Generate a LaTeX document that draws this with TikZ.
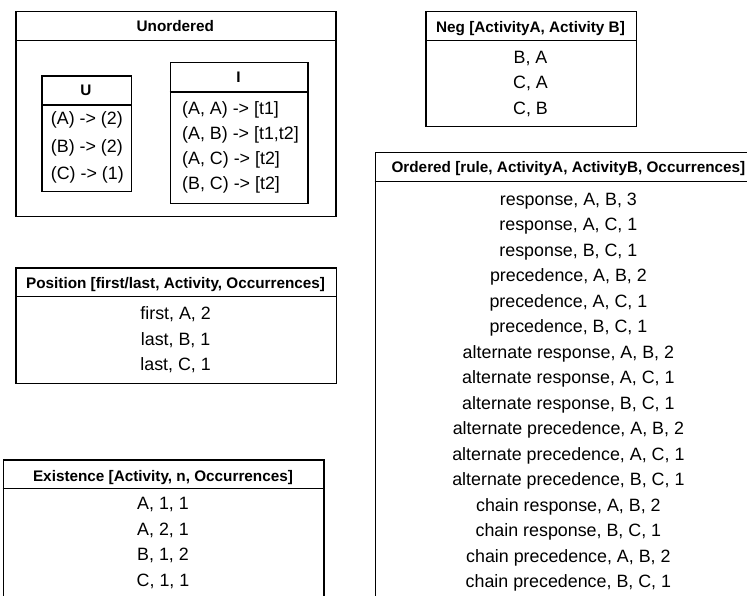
\documentclass[tikz,border=0pt]{standalone}
\usepackage{fontspec}
\setmainfont{Liberation Sans}
\begin{document}
\begin{tikzpicture}[x=1pt,y=-1pt,
  frame/.style={draw=black, line width=1.3pt, rectangle, inner sep=0pt, anchor=north west},
  sep/.style={draw=black, line width=1.3pt},
  hdr/.style={font=\fontsize{15.3}{18}\selectfont\bfseries, anchor=base, inner sep=0pt},
  cell/.style={font=\fontsize{17.85}{21}\selectfont, anchor=base, inner sep=0pt},
  lcell/.style={cell, anchor=base west}]
\clip (0,0) rectangle (747,596);

% Unordered
\node[frame, minimum width=320pt, minimum height=205pt] (unord) at (15.3,11) {};
\draw[sep] ([yshift=-29.7pt]unord.north west) -- ([yshift=-29.7pt]unord.north east);
\node[hdr] (unordT) at (175.3,31.5) {Unordered};

% U
\node[frame, minimum width=89.4pt, minimum height=115.4pt] (ubox) at (41.3,75.3) {};
\draw[sep] ([yshift=-29.7pt]ubox.north west) -- ([yshift=-29.7pt]ubox.north east);
\node[hdr] (uT) at (86,96) {U};
\node[lcell] (u1) at (50.7,124.7) {(A) -> (2)};
\node[lcell] (u2) at (50.7,152.1) {(B) -> (2)};
\node[lcell] (u3) at (50.7,179.1) {(C) -> (1)};

% I
\node[frame, minimum width=137.6pt, minimum height=140.7pt] (ibox) at (169.7,62) {};
\draw[sep] ([yshift=-30pt]ibox.north west) -- ([yshift=-30pt]ibox.north east);
\node[hdr] (iT) at (238.5,82.8) {I};
\node[lcell] (i1) at (182,114.4) {(A, A) -> [t1]};
\node[lcell] (i2) at (182,139.4) {(A, B) -> [t1,t2]};
\node[lcell] (i3) at (182,164.4) {(A, C) -> [t2]};
\node[lcell] (i4) at (182,189.4) {(B, C) -> [t2]};

% Neg
\node[frame, minimum width=210.4pt, minimum height=114.7pt] (neg) at (425.3,11) {};
\draw[sep] ([yshift=-29.7pt]neg.north west) -- ([yshift=-29.7pt]neg.north east);
\node[hdr] (negT) at (530.5,32.2) {Neg [ActivityA, Activity B]};
\node[cell] (n1) at (530.5,63.4) {B, A};
\node[cell] (n2) at (530.5,88.9) {C, A};
\node[cell] (n3) at (530.5,114.4) {C, B};

% Ordered
\node[frame, minimum width=387.3pt, minimum height=460pt] (ord) at (374.7,151.7) {};
\draw[sep] ([yshift=-29.6pt]ord.north west) -- ([yshift=-29.6pt]ord.north east);
\node[hdr] (ordT) at (568.4,172.5) {Ordered [rule, ActivityA, ActivityB, Occurrences]};
\foreach \t [count=\k from 0] in {{response, A, B, 3},{response, A, C, 1},{response, B, C, 1},
  {precedence, A, B, 2},{precedence, A, C, 1},{precedence, B, C, 1},
  {alternate response, A, B, 2},{alternate response, A, C, 1},{alternate response, B, C, 1},
  {alternate precedence, A, B, 2},{alternate precedence, A, C, 1},{alternate precedence, B, C, 1},
  {chain response, A, B, 2},{chain response, B, C, 1},
  {chain precedence, A, B, 2},{chain precedence, B, C, 1}}
  \node[cell] (o\k) at (568.4,205.4+25.5*\k) {\t};

% Position
\node[frame, minimum width=320.7pt, minimum height=115.4pt] (pos) at (15.3,267.3) {};
\draw[sep] ([yshift=-29.4pt]pos.north west) -- ([yshift=-29.4pt]pos.north east);
\node[hdr] (posT) at (175.6,288.5) {Position [first/last, Activity, Occurrences]};
\node[cell] (p1) at (175.6,319.7) {first, A, 2};
\node[cell] (p2) at (175.6,345.1) {last, B, 1};
\node[cell] (p3) at (175.6,370.7) {last, C, 1};

% Existence
\node[frame, minimum width=320.6pt, minimum height=150pt] (ex) at (2.7,459.3) {};
\draw[sep] ([yshift=-29.4pt]ex.north west) -- ([yshift=-29.4pt]ex.north east);
\node[hdr] (exT) at (163,481.5) {Existence [Activity, n, Occurrences]};
\node[cell] (e1) at (163,509.7) {A, 1, 1};
\node[cell] (e2) at (163,535.1) {A, 2, 1};
\node[cell] (e3) at (163,560.7) {B, 1, 2};
\node[cell] (e4) at (163,586.4) {C, 1, 1};
\end{tikzpicture}
\end{document}
